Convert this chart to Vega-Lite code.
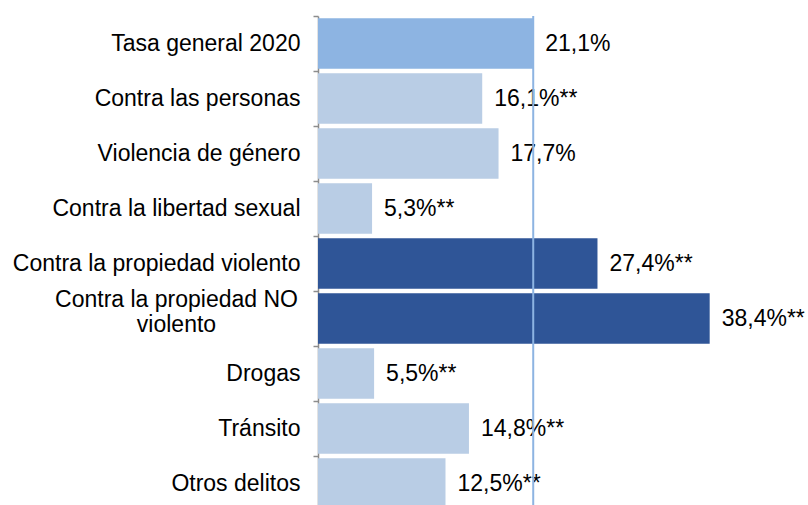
{
  "$schema": "https://vega.github.io/schema/vega-lite/v6.json",
  "width": 408,
  "height": 495,
  "autosize": "none",
  "padding": {"left": 318, "top": 16, "right": 82, "bottom": 0},
  "background": "white",
  "config": {"view": {"stroke": null}, "font": "Liberation Sans"},
  "data": {
    "values": [
      {"categoria": "Tasa general 2020", "valor": 21.1, "etiqueta": "21,1%", "grupo": "general"},
      {"categoria": "Contra las personas", "valor": 16.1, "etiqueta": "16,1%**", "grupo": "otros"},
      {"categoria": "Violencia de género", "valor": 17.7, "etiqueta": "17,7%", "grupo": "otros"},
      {"categoria": "Contra la libertad sexual", "valor": 5.3, "etiqueta": "5,3%**", "grupo": "otros"},
      {"categoria": "Contra la propiedad violento", "valor": 27.4, "etiqueta": "27,4%**", "grupo": "propiedad"},
      {"categoria": "Contra la propiedad NO violento", "valor": 38.4, "etiqueta": "38,4%**", "grupo": "propiedad"},
      {"categoria": "Drogas", "valor": 5.5, "etiqueta": "5,5%**", "grupo": "otros"},
      {"categoria": "Tránsito", "valor": 14.8, "etiqueta": "14,8%**", "grupo": "otros"},
      {"categoria": "Otros delitos", "valor": 12.5, "etiqueta": "12,5%**", "grupo": "otros"}
    ]
  },
  "layer": [
    {
      "mark": {"type": "bar", "height": {"band": 0.92}},
      "encoding": {
        "y": {
          "field": "categoria", "type": "nominal", "sort": null,
          "scale": {"paddingInner": 0, "paddingOuter": 0},
          "axis": {
            "orient": "left", "title": null, "labels": false, "ticks": true,
            "bandPosition": 0, "tickSize": 5, "tickColor": "#8c8c8c", "tickWidth": 1.5,
            "domain": true, "domainColor": "#8c8c8c", "domainWidth": 1.5, "grid": false
          }
        },
        "x": {"field": "valor", "type": "quantitative", "scale": {"domain": [0, 40]}, "axis": null},
        "color": {
          "field": "grupo", "type": "nominal", "legend": null,
          "scale": {"domain": ["general", "otros", "propiedad"], "range": ["#8DB4E2", "#B9CDE5", "#2F5597"]}
        }
      }
    },
    {
      "mark": {"type": "text", "align": "left", "baseline": "middle", "dx": 12, "fontSize": 23, "color": "#000000"},
      "encoding": {
        "y": {
          "field": "categoria", "type": "nominal", "sort": null,
          "scale": {"paddingInner": 0, "paddingOuter": 0},
          "axis": {
            "orient": "left", "title": null, "ticks": false, "domain": false, "grid": false,
            "labelFontSize": 23, "labelColor": "#000000", "labelLimit": 400,
            "labelLineHeight": 25,
            "labelPadding": {"condition": {"test": "datum.label == 'Contra la propiedad NO violento'", "value": 142}, "value": 18},
            "labelAlign": {"condition": {"test": "datum.label == 'Contra la propiedad NO violento'", "value": "center"}, "value": "right"},
            "labelOffset": {"condition": {"test": "datum.label == 'Contra la propiedad NO violento'", "value": -19}, "value": 0},
            "labelExpr": "datum.label == 'Contra la propiedad NO violento' ? ['Contra la propiedad NO', 'violento'] : datum.label"
          }
        },
        "x": {"field": "valor", "type": "quantitative", "axis": null},
        "text": {"field": "etiqueta"}
      }
    },
    {
      "data": {"values": [{"referencia": 21.1}]},
      "mark": {"type": "rule", "color": "#8DB4E2", "strokeWidth": 2},
      "encoding": {
        "x": {"field": "referencia", "type": "quantitative", "axis": null}
      }
    }
  ],
  "resolve": {"axis": {"y": "independent"}}
}
